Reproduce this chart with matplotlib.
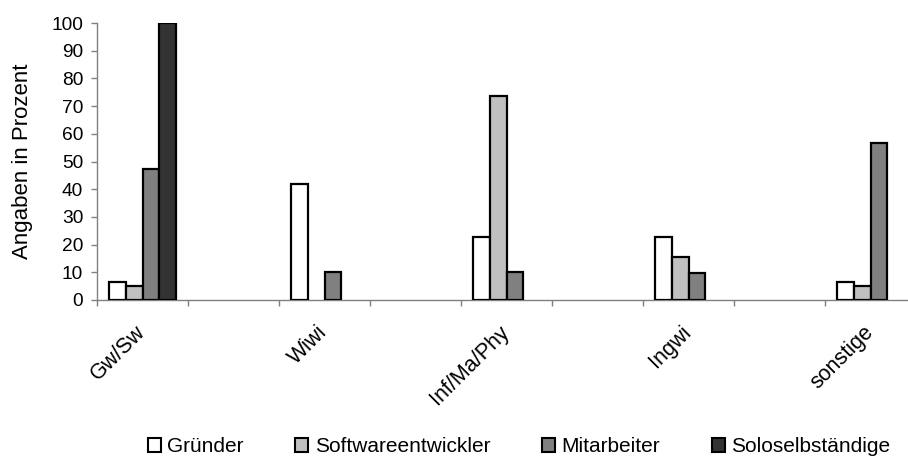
import numpy as np
import matplotlib
matplotlib.use("Agg")
import matplotlib.pyplot as plt
from matplotlib.patches import Patch

plt.rcParams["font.family"] = ["Liberation Sans", "DejaVu Sans"]

# Fachrichtungen und Anteile (in Prozent) je Gruppe
categories = ["Gw/Sw", "Wiwi", "Inf/Ma/Phy", "Ingwi", "sonstige"]
series_names = ["Gründer", "Softwareentwickler", "Mitarbeiter", "Soloselbständige"]
gruender = [6.4, 41.9, 22.6, 22.6, 6.4]
softwareentwickler = [5.2, 0, 73.6, 15.6, 5.2]
mitarbeiter = [47.2, 10.2, 10.2, 9.9, 56.8]
soloselbstaendige = [100, 0, 0, 0, 0]
y_ticks = list(range(0, 101, 10))

series = [gruender, softwareentwickler, mitarbeiter, soloselbstaendige]
colors = ["#FFFFFF", "#C0C0C0", "#808080", "#333333"]
axis_grey = "#808080"

fig = plt.figure(figsize=(9.08, 4.57), dpi=100)
ax = fig.add_axes([97 / 908, 157 / 457, 811 / 908, 277 / 457])

# each category sits in every other slot of a 10-slot category axis
n_slots = 2 * len(categories)
slot_centers = np.arange(len(categories)) * 2 + 0.5
bar_w = 0.183
for k, (vals, col) in enumerate(zip(series, colors)):
    offs = (k - 1.5) * bar_w
    v = np.asarray(vals, dtype=float)
    keep = v > 0
    ax.bar(slot_centers[keep] + offs, v[keep], width=bar_w, color=col,
           edgecolor="black", linewidth=1.6, zorder=3)

for side in ("top", "right"):
    ax.spines[side].set_visible(False)
for side in ("left", "bottom"):
    ax.spines[side].set_color(axis_grey)
    ax.spines[side].set_linewidth(1.0)

ax.set_yticks(y_ticks)
ax.tick_params(axis="y", direction="out", length=4, width=1.0, color=axis_grey,
               labelsize=13.8, pad=6)

ax.set_xticks(np.arange(0, n_slots + 1))
ax.set_xticklabels([])
ax.tick_params(axis="x", which="major", direction="out", length=4.5, width=1.0,
               color=axis_grey)
ax.set_xticks(slot_centers, minor=True)
ax.set_xticklabels(categories, minor=True, rotation=45, ha="right", va="center",
                   rotation_mode="anchor", fontsize=15.5)
ax.tick_params(axis="x", which="minor", length=0, pad=21)

# limits last, so the tick setup does not widen them
ax.set_xlim(0, 811 / 91)
ax.set_ylim(0, 100)

ax.set_ylabel("Angaben in Prozent", fontsize=16, labelpad=13)

handles = [Patch(facecolor=c, edgecolor="black", linewidth=1.5) for c in colors]
fig.legend(handles, series_names, loc="center", ncol=4, frameon=False,
           bbox_to_anchor=(519 / 908, 1 - 447 / 457), fontsize=15,
           handlelength=0.62, handleheight=0.62, handletextpad=0.3,
           columnspacing=2.5, borderpad=0.0)

fig.savefig("out.png", dpi=100)
